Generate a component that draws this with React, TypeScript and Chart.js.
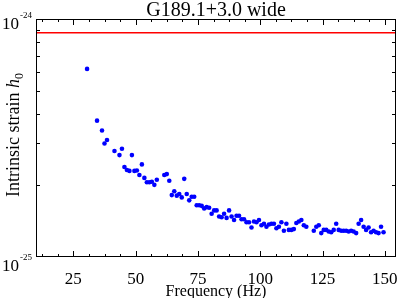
import React, { useEffect, useRef } from "react";
import { Chart, registerables } from "chart.js";

Chart.register(...registerables);

const TITLE = "G189.1+3.0 wide";
const X_TITLE = "Frequency (Hz)";
const Y_TITLE_MAIN = "Intrinsic strain ";
const Y_TITLE_SYMBOL = "h";
const Y_TITLE_SUB = "0";

const FREQUENCY_HZ = [
  30.5, 34.5, 36.5, 37.5, 38.5, 41.5, 43.5, 44.5, 45.5, 46.5, 47.5, 48.5,
  49.5, 50.5, 51.5, 52.5, 53.5, 54.5, 55.5, 56.5, 57.5, 58.5,
  61.5, 62.5, 63.5, 64.5, 65.5, 66.5, 67.5, 68.5, 69.5, 70.5, 71.5, 72.5,
  73.5, 74.5, 75.5, 76.5, 77.5, 78.5, 79.5, 80.5, 81.5, 82.5, 83.5, 84.5,
  85.5, 86.5, 87.5, 88.5, 89.5, 90.5, 91.5, 92.5, 93.5, 94.5, 95.5, 96.5,
  97.5, 98.5, 99.5, 100.5, 101.5, 102.5, 103.5, 104.5, 105.5, 106.5, 107.5,
  108.5, 109.5, 110.5, 111.5, 112.5, 113.5, 114.5, 115.5, 116.5, 117.5, 118.5,
  121.5, 122.5, 123.5, 124.5, 125.5, 126.5, 127.5, 128.5, 129.5, 130.5,
  131.5, 132.5, 133.5, 134.5, 135.5, 136.5, 137.5, 138.5, 139.5, 140.5,
  141.5, 142.5, 143.5, 144.5, 145.5, 146.5, 147.5, 148.5, 149.5,
];

// strain values in units of 1e-25
const STRAIN_E25 = [
  6.17, 3.74, 3.40, 3.00, 3.10, 2.79, 2.68, 2.85, 2.39, 2.32, 2.30, 2.68,
  2.30, 2.31, 2.21, 2.45, 2.15, 2.06, 2.06, 2.07, 2.01, 2.11,
  2.21, 2.23, 2.09, 1.82, 1.89, 1.81, 1.84, 1.78, 2.13, 1.84, 1.73, 1.79,
  1.79, 1.65, 1.65, 1.64, 1.60, 1.62, 1.61, 1.52, 1.57, 1.57, 1.48, 1.47,
  1.52, 1.46, 1.57, 1.48, 1.43, 1.49, 1.49, 1.44, 1.44, 1.40, 1.40, 1.33,
  1.41, 1.40, 1.43, 1.36, 1.38, 1.34, 1.37, 1.38, 1.38, 1.32, 1.34,
  1.40, 1.29, 1.38, 1.30, 1.30, 1.31, 1.39, 1.41, 1.43, 1.36, 1.34,
  1.29, 1.34, 1.36, 1.26, 1.30, 1.30, 1.28, 1.27, 1.30, 1.38,
  1.30, 1.29, 1.29, 1.29, 1.28, 1.29, 1.28, 1.26, 1.38, 1.43,
  1.34, 1.30, 1.33, 1.27, 1.29, 1.27, 1.26, 1.34, 1.27,
];

const UPPER_LIMIT = 8.75e-25;
const X_MIN = 10;
const X_MAX = 154.5;
const Y_MIN = 1e-25;
const Y_MAX = 1e-24;

const X_TICK_VALUES = [25, 50, 75, 100, 125, 150];
const X_TICK_LABELS = ["25", "50", "75", "100", "125", "150"];
const X_MINOR_STEP = 6.25;
const Y_MINOR_E25 = [2, 3, 4, 5, 6, 7, 8, 9];
const Y_TICK_LABELS = [
  { value: 1e-24, base: "10", exp: "-24" },
  { value: 1e-25, base: "10", exp: "-25" },
];

const FONT = '"Liberation Serif", "Times New Roman", serif';

const framePlugin = {
  id: "frameAxes",
  afterDraw(chart: any) {
    const { ctx, chartArea: ca, scales } = chart;
    const xs = scales.x;
    const ys = scales.y;
    ctx.save();
    ctx.strokeStyle = "#000";
    ctx.lineWidth = 1;
    ctx.strokeRect(ca.left + 0.5, ca.top + 0.5, ca.right - ca.left - 1, ca.bottom - ca.top - 1);

    ctx.beginPath();
    const first = Math.ceil(X_MIN / X_MINOR_STEP) * X_MINOR_STEP;
    for (let v = first; v <= X_MAX + 1e-9; v += X_MINOR_STEP) {
      const px = Math.round(xs.getPixelForValue(v)) + 0.5;
      const major = X_TICK_VALUES.includes(v);
      const len = major ? 6 : 3;
      ctx.moveTo(px, ca.bottom);
      ctx.lineTo(px, ca.bottom - len);
      ctx.moveTo(px, ca.top);
      ctx.lineTo(px, ca.top + len);
    }
    for (const m of Y_MINOR_E25) {
      const py = Math.round(ys.getPixelForValue(m * 1e-25)) + 0.5;
      ctx.moveTo(ca.left, py);
      ctx.lineTo(ca.left + 4, py);
      ctx.moveTo(ca.right, py);
      ctx.lineTo(ca.right - 4, py);
    }
    ctx.stroke();

    ctx.fillStyle = "#000";
    ctx.textBaseline = "alphabetic";

    // x tick labels
    ctx.font = `17px ${FONT}`;
    ctx.textAlign = "center";
    X_TICK_VALUES.forEach((v, i) => {
      ctx.fillText(X_TICK_LABELS[i], xs.getPixelForValue(v), ca.bottom + 26.5);
    });

    // y tick labels with superscripts
    Y_TICK_LABELS.forEach((t) => {
      const py = ys.getPixelForValue(t.value);
      const base = t.value === Y_MAX ? py + 9.5 : py + 14;
      ctx.textAlign = "left";
      ctx.font = `17px ${FONT}`;
      ctx.fillText(t.base, 2, base);
      const w = ctx.measureText(t.base).width;
      ctx.font = `9px ${FONT}`;
      ctx.fillText(t.exp, 2 + w + 1, base - 11);
    });

    // title
    ctx.font = `20px ${FONT}`;
    ctx.textAlign = "center";
    ctx.fillText(TITLE, (ca.left + ca.right) / 2, 15.5);

    // x title
    ctx.font = `16px ${FONT}`;
    ctx.fillText(X_TITLE, (ca.left + ca.right) / 2, 296);

    // y title
    ctx.save();
    ctx.translate(19, (ca.top + ca.bottom) / 2 - 3);
    ctx.rotate(-Math.PI / 2);
    ctx.textAlign = "left";
    ctx.font = `18px ${FONT}`;
    const w1 = ctx.measureText(Y_TITLE_MAIN).width;
    ctx.font = `italic 18px ${FONT}`;
    const w2 = ctx.measureText(Y_TITLE_SYMBOL).width;
    ctx.font = `12px ${FONT}`;
    const w3 = ctx.measureText(Y_TITLE_SUB).width;
    let x0 = -(w1 + w2 + w3) / 2;
    ctx.font = `18px ${FONT}`;
    ctx.fillText(Y_TITLE_MAIN, x0, 0);
    x0 += w1;
    ctx.font = `italic 18px ${FONT}`;
    ctx.fillText(Y_TITLE_SYMBOL, x0, 0);
    x0 += w2;
    ctx.font = `12px ${FONT}`;
    ctx.fillText(Y_TITLE_SUB, x0, 4);
    ctx.restore();

    ctx.restore();
  },
};

export default function App() {
  const canvasRef = useRef<HTMLCanvasElement | null>(null);

  useEffect(() => {
    const canvas = canvasRef.current;
    if (!canvas) return;
    const points = FREQUENCY_HZ.map((f, i) => ({ x: f, y: STRAIN_E25[i] * 1e-25 }));
    const chart = new Chart(canvas, {
      type: "scatter",
      data: {
        datasets: [
          {
            type: "line",
            data: [
              { x: X_MIN, y: UPPER_LIMIT },
              { x: X_MAX, y: UPPER_LIMIT },
            ],
            borderColor: "rgb(255,0,0)",
            borderWidth: 1.5,
            pointRadius: 0,
            fill: false,
          } as any,
          {
            data: points,
            backgroundColor: "rgb(0,0,255)",
            borderWidth: 0,
            pointRadius: 2.3,
            pointHoverRadius: 2.3,
          },
        ],
      },
      options: {
        responsive: false,
        animation: false,
        devicePixelRatio: 1,
        layout: { padding: { left: 36, right: 3, top: 19, bottom: 41 } },
        plugins: {
          legend: { display: false },
          tooltip: { enabled: false },
          title: { display: false },
        },
        scales: {
          x: { type: "linear", min: X_MIN, max: X_MAX, display: false },
          y: { type: "logarithmic", min: Y_MIN, max: Y_MAX, display: false },
        },
      },
      plugins: [framePlugin],
    });
    return () => chart.destroy();
  }, []);

  return (
    <div style={{ position: "fixed", left: 0, top: 0, width: 399, height: 298, background: "#fff" }}>
      <canvas ref={canvasRef} width={399} height={298} style={{ display: "block" }} />
    </div>
  );
}
